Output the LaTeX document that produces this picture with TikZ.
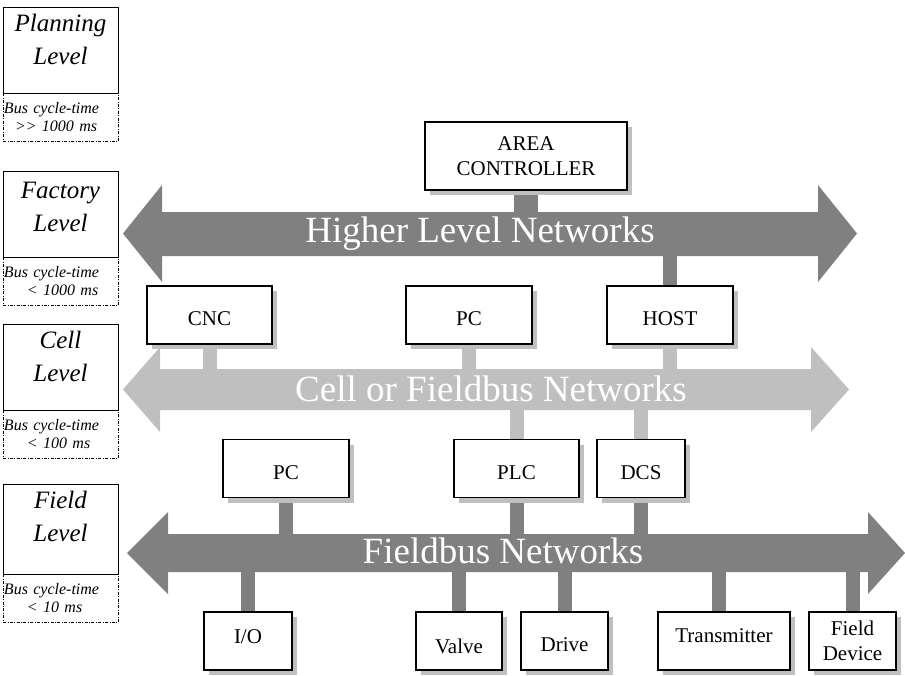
\documentclass[tikz,border=0pt]{standalone}
\usepackage{fontspec}
\setmainfont{Liberation Serif}
\usetikzlibrary{
  positioning,
  shadows,
  backgrounds
}
\definecolor{busdark}{gray}{0.5}
\definecolor{buslight}{gray}{0.75}
\definecolor{shadegray}{gray}{0.75}

\begin{document}
\begin{tikzpicture}[x=1pt, y=-1pt,
    unit/.style={draw, line width=1.2pt, fill=white, inner sep=0pt, minimum height=58pt, align=center,
      font=\fontsize{21}{25}\selectfont,
      drop shadow={shadow xshift=5pt, shadow yshift=-5pt, fill=shadegray, opacity=1}},
    oneline/.style={text height=#1, text depth=0pt},
    oneline/.default=20pt,
    levelbox/.style={draw, line width=0.8pt, minimum width=115pt, outer sep=0pt},
    leveltext/.style={inner sep=0pt, align=center, font=\fontsize{25}{33}\selectfont\itshape},
    busbox/.style={draw, line width=0.6pt, dash pattern=on 3pt off 1.5pt on 0.8pt off 1.5pt,
      minimum width=115pt, minimum height=48.5pt, text width=113pt, inner xsep=1pt, inner ysep=0pt,
      align=left, outer sep=0pt, font=\fontsize{16}{18}\selectfont\itshape},
    busname/.style={text=white, inner sep=0pt, font=\fontsize{37}{40}\selectfont},
    darkbar/.style={draw=busdark, line width=14pt},
    lightbar/.style={draw=buslight, line width=14pt}]
\useasboundingbox (0,0) rectangle (905,675);

% levels
\node[levelbox, minimum height=86pt] (plan) at (60.5,50) {};
\node[leveltext, below=7pt of plan.north] (plantext) {Planning\\Level};
\node[busbox, below=0pt of plan] (planbus) {Bus cycle-time\\\hspace*{11pt}>{}> 1000 ms};

\node[levelbox, minimum height=86pt] (fact) at (60.5,214) {};
\node[leveltext, below=11pt of fact.north] (facttext) {Factory\\Level};
\node[busbox, below=0pt of fact] (factbus) {Bus cycle-time\\\hspace*{23pt}< 1000 ms};

\node[levelbox, minimum height=86pt] (cell) at (60.5,367) {};
\node[leveltext, below=7pt of cell.north] (celltext) {Cell\\Level};
\node[busbox, below=0pt of cell] (cellbox) {Bus cycle-time\\\hspace*{23pt}< 100 ms};

\node[levelbox, minimum height=90pt] (field) at (60.5,529) {};
\node[leveltext, below=7pt of field.north] (fieldtext) {Field\\Level};
\node[busbox, below=0pt of field] (fieldbox) {Bus cycle-time\\\hspace*{23pt}< 10 ms};

% networks
\fill[busdark] (123,233.5) -- (162,185) -- (162,212) -- (818,212) -- (818,185) -- (857,233.5)
  -- (818,282) -- (818,256) -- (162,256) -- (162,282) -- cycle;
\fill[buslight] (123,389.5) -- (160,347) -- (160,369) -- (811,369) -- (811,347) -- (849,389.5)
  -- (811,432) -- (811,410) -- (160,410) -- (160,432) -- cycle;
\fill[busdark] (127,553) -- (168,512) -- (168,534) -- (868,534) -- (868,512) -- (905,553)
  -- (868,594) -- (868,572) -- (168,572) -- (168,594) -- cycle;
\node[busname] (higher) at (480,234) {Higher Level Networks};
\node[busname] (cellbus) at (491,389) {Cell or Fieldbus Networks};
\node[busname] (fieldbus) at (503,550.5) {Fieldbus Networks};

% devices
\node[unit, minimum width=202pt, minimum height=68pt] (area) at (526,156) {AREA\\CONTROLLER};
\node[unit, oneline, minimum width=125pt] (cnc) at (209.5,315) {CNC};
\node[unit, oneline, minimum width=126pt] (pcup) at (469,315) {PC};
\node[unit, oneline, minimum width=126pt] (host) at (670,315) {HOST};
\node[unit, oneline=22pt, minimum width=126pt] (pcdown) at (286,468.5) {PC};
\node[unit, oneline=22pt, minimum width=125pt] (plc) at (516.5,468.5) {PLC};
\node[unit, oneline=22pt, minimum width=88pt] (dcs) at (641,468.5) {DCS};
\node[unit, oneline=14pt, text depth=10pt, minimum width=88pt] (io) at (248,641) {I/O};
\node[unit, oneline=24pt, minimum width=86pt] (valve) at (459,641) {Valve};
\node[unit, oneline, minimum width=87pt] (drive) at (564.5,641) {Drive};
\node[unit, oneline=14pt, text depth=12pt, minimum width=132pt] (xmit) at (724,641) {Transmitter};
\node[unit, minimum width=87pt] (fdev) at (852.5,641) {Field\\Device};

% links
\begin{pgfonlayer}{background}
\draw[darkbar, line width=24pt] (area) -- (area |- higher);
\draw[darkbar] (host) -- (host |- higher);
\draw[lightbar] (cnc) -- (cnc |- cellbus);
\draw[lightbar] (pcup) -- (pcup |- cellbus);
\draw[lightbar] (host) -- (host |- cellbus);
\draw[lightbar] (plc) -- (plc |- cellbus);
\draw[lightbar] (dcs) -- (dcs |- cellbus);
\draw[darkbar] (pcdown) -- (pcdown |- fieldbus);
\draw[darkbar] (plc) -- (plc |- fieldbus);
\draw[darkbar] (dcs) -- (dcs |- fieldbus);
\draw[darkbar] (io) -- (io |- fieldbus);
\draw[darkbar] (valve) -- (valve |- fieldbus);
\draw[darkbar] (drive) -- (drive |- fieldbus);
\draw[darkbar] ([xshift=-5pt]xmit.center) -- ([xshift=-5pt]xmit.center |- fieldbus);
\draw[darkbar] (fdev) -- (fdev |- fieldbus);
\end{pgfonlayer}
\end{tikzpicture}
\end{document}
